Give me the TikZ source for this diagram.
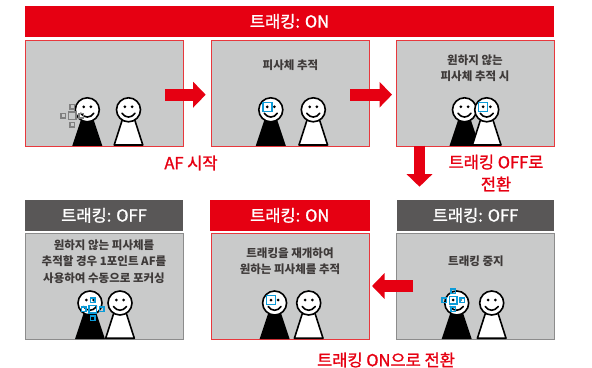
\documentclass[tikz,border=0pt]{standalone}
\usepackage{fontspec}
\setmainfont{Noto Sans CJK KR}
\newfontfamily\krmed{Noto Sans CJK KR}[FakeBold=1.3]
\usetikzlibrary{arrows.meta}

\definecolor{trackred}{HTML}{E60012}
\definecolor{edgered}{HTML}{E8383D}
\definecolor{panelgray}{HTML}{C9CACA}
\definecolor{headgray}{HTML}{595757}
\definecolor{edgegray}{HTML}{8C8C8C}
\definecolor{afblue}{HTML}{0B9BD8}
\definecolor{afgray}{HTML}{808080}
\definecolor{txt}{HTML}{3E3A39}

\tikzset{
  banner/.style={fill=trackred, text=white, inner sep=0pt, outer sep=0pt,
    minimum height=30.7pt, font=\krmed\fontsize{16.5}{16.5}\selectfont},
  offhead/.style={banner, fill=headgray},
  panel/.style={fill=panelgray, draw=edgered, line width=1pt, inner sep=0pt,
    outer sep=0pt, minimum width=158pt, minimum height=106pt},
  offpanel/.style={panel, draw=edgegray},
  paneltext/.style={text=txt, align=center, inner sep=0pt,
    font=\bfseries\fontsize{11.5}{16.5}\selectfont},
  redlabel/.style={text=trackred, align=center, inner sep=0pt,
    font=\krmed\fontsize{16.5}{22}\selectfont},
  flowarrow/.style={draw=trackred, line width=12.4pt,
    -{Triangle[width=25pt,length=12.5pt]}},
  figline/.style={draw=black, line width=1.6pt},
  afbox/.style={draw=afblue, line width=1.6pt, minimum size=9pt, inner sep=0pt},
  % person with a black body
  darkperson/.pic={
    \fill[black] (-3,0) -- (3,0) -- (15,36) -- (-15,36) -- cycle;
    \draw[figline, fill=white] (0,0) circle[radius=12];
    \fill[black] (-3.6,-3) circle[radius=1.5] (3.6,-3) circle[radius=1.5];
    \draw[figline, line cap=round] (-6.5,3.5) .. controls (-3,8.5) and (3,8.5) .. (6.5,3.5);
  },
  % person with a white body
  lightperson/.pic={
    \draw[figline, fill=white, line join=round] (-3,0) -- (3,0) -- (14.3,35.2) -- (-14.3,35.2) -- cycle;
    \draw[figline, fill=white] (0,0) circle[radius=12];
    \fill[black] (-3.6,-3) circle[radius=1.5] (3.6,-3) circle[radius=1.5];
    \draw[figline, line cap=round] (-6.5,3.5) .. controls (-3,8.5) and (3,8.5) .. (6.5,3.5);
  },
  % multi-point AF frame
  afcluster/.pic={
    \draw[pic actions] (-3.75,-3.75) rectangle (3.75,3.75);
    \foreach \dx/\dy in {-9/0,9/0,0/-9,0/9}
      \draw[pic actions] (\dx-2.25,\dy-2.25) rectangle (\dx+2.25,\dy+2.25);
  }
}

\begin{document}
\begin{tikzpicture}[x=1pt,y=-1pt]
\useasboundingbox (0,0) rectangle (592,367);

% top banner
\node[banner, minimum width=529pt] (topbar) at (289.5,21.35) {트래킹: ON};

% top row panels
\node[panel] (p1) at (104,93.35) {};
\node[panel] (p2) at (290,93.35) {};
\node[panel] (p3) at (475,93.35) {};

% bottom headers
\node[offhead, minimum width=158pt] (h1) at (104,215.35) {트래킹: OFF};
\node[banner, minimum width=159.5pt] (h2) at (289.75,215.35) {트래킹: ON};
\node[offhead, minimum width=157pt] (h3) at (475.5,215.35) {트래킹: OFF};

% bottom row panels
\node[offpanel] (q1) at (104,286.3) {};
\node[panel] (q2) at (290,286.3) {};
\node[offpanel] (q3) at (475,286.3) {};

% panel captions
\node[paneltext] (t2) at (290.5,65) {피사체 추적};
\node[paneltext] (t3) at (475,68.4) {원하지 않는\\피사체 추적 시};
\node[paneltext] (u1) at (104,261.3) {원하지 않는 피사체를\\추적할 경우 1포인트 AF를\\사용하여 수동으로 포커싱};
\node[paneltext] (u2) at (290,261) {트래킹을 재개하여\\원하는 피사체를 추적};
\node[paneltext] (u3) at (476,261) {트래킹 중지};

% figures, top row
\pic at (87.3,109.8) {darkperson};
\pic at (128.5,109.8) {lightperson};
\pic[draw=afgray, line width=1.5pt] at (72.3,115.7) {afcluster};

\pic at (270.8,109.8) {darkperson};
\pic at (313.3,109.8) {lightperson};
\node[afbox] (f2) at (267.2,106.8) {};

\pic at (464.5,109.8) {darkperson};
\pic at (486.7,109.8) {lightperson};
\node[afbox] (f3) at (483.1,106.8) {};

% figures, bottom row
\pic at (90,303) {darkperson};
\pic at (120,303) {lightperson};
\pic[draw=afblue, line width=1.5pt] at (92.7,309) {afcluster};

\pic at (274.6,303) {darkperson};
\pic at (308.7,303) {lightperson};
\node[afbox] (g2) at (271,300) {};

\pic at (456.7,303) {darkperson};
\pic at (491.7,303) {lightperson};
\pic[draw=afblue, line width=1.5pt] at (453.1,300) {afcluster};

% flow arrows
\coordinate (a1s) at (164.8,94.7);
\coordinate (a1e) at (205.7,94.7);
\coordinate (a2s) at (350.4,94.7);
\coordinate (a2e) at (392,94.7);
\coordinate (a3s) at (419.5,145.7);
\coordinate (a3e) at (419.5,186.7);
\coordinate (a4s) at (413,286);
\coordinate (a4e) at (372,286);
\draw[flowarrow] (a1s) -- (a1e);
\draw[flowarrow] (a2s) -- (a2e);
\draw[flowarrow, line width=11.5pt] (a3s) -- (a3e);
\draw[flowarrow] (a4s) -- (a4e);

% step labels
\node[redlabel] (l1) at (191,163) {AF 시작};
\node[redlabel] (l2) at (496,173) {트래킹 OFF로\\전환};
\node[redlabel] (l3) at (386,360) {트래킹 ON으로 전환};
\end{tikzpicture}
\end{document}
